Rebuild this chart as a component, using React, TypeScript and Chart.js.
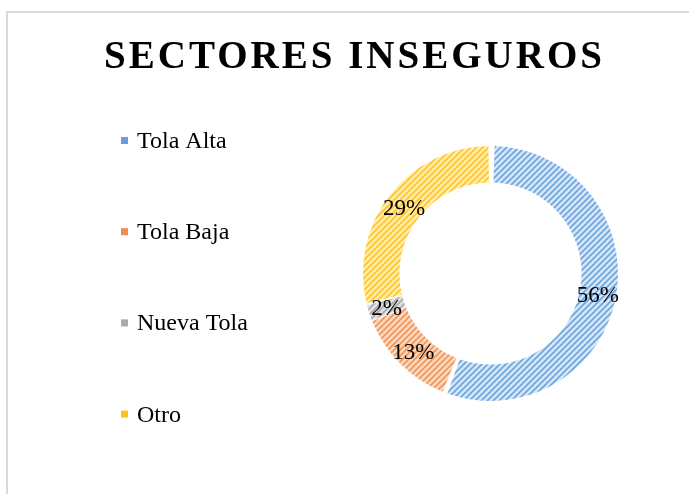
import React, { useEffect, useRef } from "react";
import { Chart, registerables } from "chart.js";

Chart.register(...registerables);

const titleText = "SECTORES INSEGUROS";
const categories = ["Tola Alta", "Tola Baja", "Nueva Tola", "Otro"];
const values = [56, 13, 2, 29];
const baseColors = ["#d6e6f6", "#fad9c2", "#e2e2e2", "#ffecb0"];
const stripeColors = ["#6ea5db", "#f09458", "#ababab", "#ffc529"];
const markerColors = ["#6a9fd6", "#ef8c4e", "#a9a9a9", "#ffc21a"];

const SERIF = "'Liberation Serif', 'Times New Roman', serif";

function makePattern(bg: string, fg: string): CanvasPattern | string {
  const c = document.createElement("canvas");
  c.width = 6;
  c.height = 6;
  const x = c.getContext("2d");
  if (!x) return bg;
  x.fillStyle = bg;
  x.fillRect(0, 0, 6, 6);
  x.strokeStyle = fg;
  x.lineWidth = 1.6;
  x.beginPath();
  x.moveTo(-1, 7);
  x.lineTo(7, -1);
  x.moveTo(-4, 4);
  x.lineTo(4, -4);
  x.moveTo(2, 10);
  x.lineTo(10, 2);
  x.stroke();
  const p = x.createPattern(c, "repeat");
  return p || bg;
}

const framePlugin = {
  id: "frame",
  beforeDraw(chart: any) {
    const ctx = chart.ctx;
    ctx.save();
    ctx.fillStyle = "#ffffff";
    ctx.fillRect(0, 0, chart.width, chart.height);
    ctx.fillStyle = "#d9d9d9";
    ctx.fillRect(6, 11, 2, chart.height);
    ctx.fillRect(6, 11, chart.width, 2);
    ctx.restore();
  },
};

const textPlugin = {
  id: "texts",
  afterDraw(chart: any) {
    const ctx = chart.ctx;
    ctx.save();
    // title
    const ls = 3;
    ctx.font = `bold 39px ${SERIF}`;
    (ctx as any).letterSpacing = `${ls}px`;
    ctx.fillStyle = "#000000";
    ctx.textBaseline = "alphabetic";
    ctx.textAlign = "left";
    const w = ctx.measureText(titleText).width;
    ctx.fillText(titleText, 353 - (w - ls) / 2, 68);
    (ctx as any).letterSpacing = "0px";

    // legend
    ctx.font = `24px ${SERIF}`;
    chart.data.labels.forEach((lab: string, i: number) => {
      const base = 148 + i * 91.2;
      ctx.fillStyle = markerColors[i];
      ctx.fillRect(121, base - 11, 7, 7);
      ctx.fillStyle = "#000000";
      ctx.fillText(lab, 137, base);
    });

    // data labels
    const meta = chart.getDatasetMeta(0);
    const total = values.reduce((a, b) => a + b, 0);
    ctx.font = `23px ${SERIF}`;
    ctx.textAlign = "center";
    ctx.textBaseline = "middle";
    ctx.fillStyle = "#000000";
    meta.data.forEach((arc: any, i: number) => {
      const pt = arc.tooltipPosition();
      const pct = Math.round((values[i] / total) * 100) + "%";
      ctx.fillText(pct, pt.x, pt.y + 2);
    });
    ctx.restore();
  },
};

export default function App() {
  const ref = useRef<HTMLCanvasElement | null>(null);

  useEffect(() => {
    const canvas = ref.current;
    if (!canvas) return;
    const patterns = baseColors.map((b, i) => makePattern(b, stripeColors[i]));
    const chart = new Chart(canvas, {
      type: "doughnut",
      data: {
        labels: categories,
        datasets: [
          {
            data: values,
            backgroundColor: patterns as any,
            borderWidth: 0,
            spacing: 4,
          } as any,
        ],
      },
      options: {
        responsive: false,
        animation: false,
        events: [],
        cutout: "71%",
        layout: { padding: { left: 363, top: 146, right: 71, bottom: 93 } },
        plugins: {
          legend: { display: false },
          title: { display: false },
          tooltip: { enabled: false },
        },
      } as any,
      plugins: [framePlugin, textPlugin],
    });
    return () => chart.destroy();
  }, []);

  return (
    <div style={{ position: "absolute", left: 0, top: 0, width: 689, height: 494 }}>
      <canvas ref={ref} width={689} height={494} style={{ display: "block" }} />
    </div>
  );
}
